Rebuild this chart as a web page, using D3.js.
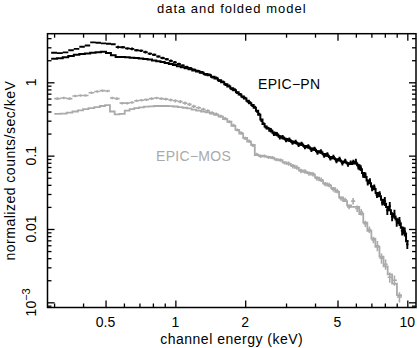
<!DOCTYPE html>
<html><head><meta charset="utf-8">
<script src="https://cdn.jsdelivr.net/npm/d3@7"></script>
<style>
body{margin:0;background:#fff}
svg{display:block}
text{font-family:"Liberation Sans",Arial,Helvetica,sans-serif;}
</style>
</head><body>
<svg id="c" width="419" height="348"></svg>
<script>
// ---------- data ----------
const pnEnergy = [0.300,0.318,0.336,0.355,0.375,0.396,0.418,0.441,0.465,0.490,0.515,0.540,0.566,0.593,0.621,0.650,0.680,0.711,0.743,0.776,0.810,0.845,0.881,0.918,0.956,0.995,1.035,1.076,1.118,1.161,1.205,1.25,1.30,1.35,1.40,1.45,1.50,1.55,1.60,1.65,1.70,1.75,1.80,1.85,1.90,1.95,2.00,2.05,2.10,2.15,2.20,2.25,2.30,2.35,2.40,2.45,2.50,2.58,2.66,2.74,2.82,2.90,3.00,3.10,3.20,3.30,3.40,3.50,3.62,3.74,3.86,3.98,4.10,4.24,4.38,4.52,4.66,4.80,4.95,5.10,5.25,5.40,5.55,5.70,5.85,6.00,6.15,6.30,6.45,6.60,6.75,6.90,7.05,7.20,7.40,7.60,7.80,8.00,8.20,8.40,8.60,8.80,9.00,9.25,9.50,9.75,10.0];
const pnData = [2.53,2.50,2.56,2.73,2.86,3.05,3.17,3.50,3.46,3.40,3.35,3.30,3.02,3.00,2.90,2.86,2.74,2.70,2.58,2.46,2.37,2.25,2.14,2.06,1.96,1.87,1.78,1.70,1.62,1.56,1.48,1.43,1.37,1.28,1.27,1.17,1.15,1.05,1.02,0.93,0.90,0.81,0.80,0.72,0.69,0.63,0.61,0.55,0.53,0.48,0.46,0.40,0.37,0.30,0.275,0.245,0.238,0.222,0.200,0.197,0.179,0.178,0.164,0.165,0.151,0.154,0.141,0.145,0.131,0.134,0.121,0.124,0.111,0.114,0.101,0.104,0.092,0.096,0.085,0.090,0.079,0.085,0.076,0.080,0.082,0.083,0.071,0.068,0.055,0.054,0.043,0.045,0.036,0.037,0.029,0.030,0.023,0.024,0.018,0.0205,0.0148,0.0160,0.0125,0.0128,0.0095,0.0092,0.0062];
const pnModel = [2.09,2.13,2.20,2.29,2.37,2.44,2.48,2.52,2.57,2.60,2.50,2.33,2.22,2.21,2.19,2.17,2.14,2.11,2.08,2.04,1.99,1.94,1.89,1.84,1.78,1.72,1.66,1.61,1.56,1.51,1.45,1.40,1.35,1.30,1.25,1.19,1.13,1.07,1.00,0.94,0.88,0.83,0.78,0.73,0.68,0.64,0.60,0.56,0.52,0.49,0.45,0.41,0.36,0.31,0.27,0.25,0.235,0.218,0.205,0.193,0.183,0.175,0.168,0.161,0.155,0.150,0.145,0.141,0.135,0.130,0.125,0.120,0.115,0.110,0.105,0.100,0.096,0.092,0.089,0.086,0.083,0.081,0.079,0.077,0.078,0.079,0.074,0.065,0.058,0.051,0.046,0.042,0.038,0.035,0.031,0.028,0.025,0.022,0.020,0.018,0.016,0.0148,0.0135,0.0120,0.0104,0.0087,0.0068];
const pnErr = [0.02,0.02,0.02,0.02,0.02,0.02,0.02,0.02,0.02,0.02,0.02,0.02,0.04,0.04,0.04,0.04,0.04,0.04,0.04,0.04,0.04,0.04,0.04,0.04,0.04,0.04,0.04,0.04,0.04,0.04,0.04,0.04,0.04,0.04,0.04,0.04,0.04,0.04,0.04,0.04,0.04,0.04,0.04,0.04,0.04,0.04,0.04,0.04,0.04,0.04,0.04,0.04,0.04,0.04,0.04,0.04,0.04,0.07,0.07,0.07,0.07,0.07,0.07,0.07,0.07,0.07,0.07,0.07,0.07,0.07,0.07,0.07,0.07,0.07,0.07,0.07,0.07,0.07,0.07,0.07,0.07,0.07,0.07,0.07,0.07,0.09,0.09,0.09,0.09,0.09,0.09,0.09,0.09,0.09,0.09,0.09,0.09,0.14,0.14,0.14,0.14,0.14,0.14,0.14,0.14,0.14,0.14];

const mosEnergy = [0.31,0.33,0.35,0.37,0.39,0.41,0.435,0.46,0.485,0.51,0.535,0.56,0.59,0.62,0.65,0.68,0.715,0.75,0.79,0.83,0.87,0.91,0.955,1.00,1.05,1.10,1.15,1.20,1.26,1.32,1.38,1.44,1.50,1.57,1.64,1.71,1.78,1.85,1.92,2.00,2.08,2.16,2.24,2.33,2.42,2.52,2.62,2.73,2.84,2.96,3.08,3.21,3.34,3.48,3.62,3.77,3.92,4.08,4.25,4.42,4.60,4.79,4.98,5.18,5.39,5.61,5.84,6.08,6.33,6.59,6.86,7.14,7.43,7.74,8.06,8.40,8.80,9.25];
const mosData = [0.60,0.61,0.60,0.65,0.66,0.66,0.72,0.75,0.77,0.76,0.61,0.60,0.52,0.52,0.53,0.56,0.57,0.58,0.60,0.61,0.60,0.59,0.575,0.56,0.545,0.52,0.50,0.47,0.45,0.43,0.41,0.385,0.37,0.345,0.32,0.29,0.26,0.224,0.205,0.172,0.158,0.138,0.104,0.098,0.099,0.095,0.094,0.088,0.087,0.080,0.078,0.072,0.069,0.062,0.061,0.057,0.056,0.049,0.047,0.041,0.040,0.035,0.033,0.026,0.025,0.020,0.024,0.019,0.017,0.0118,0.0098,0.0071,0.0059,0.0040,0.0033,0.0022,0.0020,0.00118];
const mosModel = [0.370,0.375,0.385,0.40,0.415,0.43,0.445,0.46,0.475,0.49,0.40,0.365,0.37,0.41,0.43,0.445,0.455,0.465,0.47,0.475,0.475,0.475,0.472,0.468,0.46,0.45,0.44,0.425,0.41,0.40,0.39,0.375,0.36,0.34,0.315,0.29,0.255,0.225,0.20,0.175,0.155,0.14,0.102,0.100,0.098,0.096,0.093,0.089,0.086,0.081,0.077,0.073,0.068,0.063,0.060,0.058,0.055,0.050,0.046,0.042,0.039,0.036,0.032,0.027,0.024,0.021,0.020,0.020,0.016,0.0122,0.0094,0.0074,0.0057,0.0042,0.0031,0.0024,0.0018,0.00125];
const mosErr = [0.04,0.04,0.04,0.04,0.04,0.04,0.04,0.04,0.04,0.04,0.04,0.04,0.04,0.04,0.04,0.04,0.04,0.04,0.04,0.04,0.04,0.04,0.05,0.05,0.05,0.05,0.05,0.05,0.05,0.05,0.05,0.05,0.05,0.05,0.05,0.05,0.05,0.05,0.05,0.05,0.05,0.05,0.05,0.05,0.05,0.05,0.05,0.05,0.05,0.05,0.07,0.07,0.07,0.07,0.07,0.07,0.07,0.07,0.07,0.07,0.07,0.07,0.07,0.07,0.07,0.07,0.10,0.10,0.10,0.10,0.10,0.10,0.16,0.16,0.16,0.16,0.16,0.16];

const xTicks = [0.5,1,2,5,10];
const xTickLabels = ["0.5","1","2","5","10"];
const xMinor = [0.3,0.4,0.6,0.7,0.8,0.9,3,4,6,7,8,9];
const yTicks = [1,0.1,0.01,0.001];
const yTickLabels = ["1","0.1","0.01","10|-3"];
const yMinor = [2,3,4,0.2,0.3,0.4,0.5,0.6,0.7,0.8,0.9,0.02,0.03,0.04,0.05,0.06,0.07,0.08,0.09,0.002,0.003,0.004,0.005,0.006,0.007,0.008,0.009,0.0009];

const titleText = "data and folded model";
const xTitle = "channel energy (keV)";
const yTitle = "normalized counts/sec/keV";
const seriesLabels = ["EPIC\u2212PN","EPIC\u2212MOS"];

// ---------- layout ----------
const L = 47.5, R = 416, T = 33.7, B = 307.5;
const GRAY = "#aaaaaa";
const svg = d3.select("#c");
const x = d3.scaleLog().domain([0.281, 10.9]).range([L, R]);
const y = d3.scaleLog().domain([8.5e-4, 4.6]).range([B, T]);

svg.append("clipPath").attr("id","clip").append("rect")
  .attr("x",L).attr("y",T).attr("width",R-L).attr("height",B-T);
const plot = svg.append("g").attr("clip-path","url(#clip)");

function bins(E){
  return E.map((e,i)=>{
    const p = i>0 ? E[i-1] : e*e/E[i+1];
    const n = i<E.length-1 ? E[i+1] : e*e/E[i-1];
    return [Math.sqrt(p*e), Math.sqrt(e*n)];
  });
}
function crossPath(E, V, err){
  const b = bins(E);
  let p = "";
  E.forEach((e,i)=>{
    const v = V[i];
    p += `M${x(b[i][0])},${y(v)}H${x(b[i][1])}`;
    p += `M${x(e)},${y(v*(1-err[i]))}V${y(v*(1+err[i]))}`;
  });
  return p;
}
function stepPath(E, M){
  const b = bins(E);
  const pts = E.map((e,i)=>[b[i][0], M[i]]);
  pts.push([b[E.length-1][1], M[E.length-1]]);
  return d3.line().x(d=>x(d[0])).y(d=>y(d[1])).curve(d3.curveStepAfter)(pts);
}

plot.append("path").attr("d", stepPath(mosEnergy, mosModel))
  .attr("fill","none").attr("stroke",GRAY).attr("stroke-width",1.8);
plot.append("path").attr("d", crossPath(mosEnergy, mosData, mosErr))
  .attr("fill","none").attr("stroke",GRAY).attr("stroke-width",1.6);
plot.append("path").attr("d", stepPath(pnEnergy, pnModel))
  .attr("fill","none").attr("stroke","#000").attr("stroke-width",2);
plot.append("path").attr("d", crossPath(pnEnergy, pnData, pnErr))
  .attr("fill","none").attr("stroke","#000").attr("stroke-width",1.9);

// ---------- axes ----------
function styleAxis(g){
  g.select(".domain").remove();
  g.selectAll("line").attr("stroke","#000").attr("stroke-width",1.3);
  g.selectAll("text").remove();
}
const MAJ = 7, MIN = 4;
svg.append("g").attr("transform",`translate(0,${B})`)
  .call(d3.axisBottom(x).tickValues(xMinor).tickSize(-MIN)).call(styleAxis);
svg.append("g").attr("transform",`translate(0,${B})`)
  .call(d3.axisBottom(x).tickValues(xTicks).tickSize(-MAJ)).call(styleAxis);
svg.append("g").attr("transform",`translate(0,${T})`)
  .call(d3.axisTop(x).tickValues(xMinor).tickSize(-MIN)).call(styleAxis);
svg.append("g").attr("transform",`translate(0,${T})`)
  .call(d3.axisTop(x).tickValues(xTicks).tickSize(-MAJ)).call(styleAxis);
svg.append("g").attr("transform",`translate(${L},0)`)
  .call(d3.axisLeft(y).tickValues(yMinor).tickSize(-MIN)).call(styleAxis);
svg.append("g").attr("transform",`translate(${L},0)`)
  .call(d3.axisLeft(y).tickValues(yTicks).tickSize(-MAJ)).call(styleAxis);
svg.append("g").attr("transform",`translate(${R},0)`)
  .call(d3.axisRight(y).tickValues(yMinor).tickSize(-MIN)).call(styleAxis);
svg.append("g").attr("transform",`translate(${R},0)`)
  .call(d3.axisRight(y).tickValues(yTicks).tickSize(-MAJ)).call(styleAxis);

svg.append("rect").attr("x",L).attr("y",T).attr("width",R-L).attr("height",B-T)
  .attr("fill","none").attr("stroke","#000").attr("stroke-width",1.5);

// tick labels
svg.append("g").selectAll("text").data(xTicks).join("text")
  .attr("x",d=>x(d)).attr("y",327).attr("text-anchor","middle")
  .attr("font-size",14).text((d,i)=>xTickLabels[i]);

const yl = svg.append("g").selectAll("text").data(yTicks).join("text")
  .attr("transform",d=>`translate(36,${y(d)}) rotate(-90)`)
  .attr("text-anchor","middle").attr("font-size",14);
yl.each(function(d,i){
  const s = yTickLabels[i];
  const t = d3.select(this);
  if (s.includes("|")) {
    const [base, sup] = s.split("|");
    t.append("tspan").text(base);
    t.append("tspan").attr("dy",-6).attr("font-size",11).text(sup.replace("-","\u2212"));
  } else t.text(s);
});

// titles
svg.append("text").attr("x",(L+R)/2).attr("y",13).attr("text-anchor","middle")
  .attr("font-size",13).attr("letter-spacing",1).text(titleText);
svg.append("text").attr("x",(L+R)/2).attr("y",344).attr("text-anchor","middle")
  .attr("font-size",14).attr("letter-spacing",0.5).text(xTitle);
svg.append("text").attr("transform",`translate(15,${(T+B)/2}) rotate(-90)`)
  .attr("text-anchor","middle").attr("font-size",14).attr("letter-spacing",0.5).text(yTitle);

svg.append("text").attr("x",258).attr("y",89).attr("font-size",14)
  .attr("letter-spacing",0.3).attr("fill","#000").text(seriesLabels[0]);
svg.append("text").attr("x",156).attr("y",161).attr("font-size",14)
  .attr("letter-spacing",0.3).attr("fill",GRAY).text(seriesLabels[1]);
</script>
</body></html>
